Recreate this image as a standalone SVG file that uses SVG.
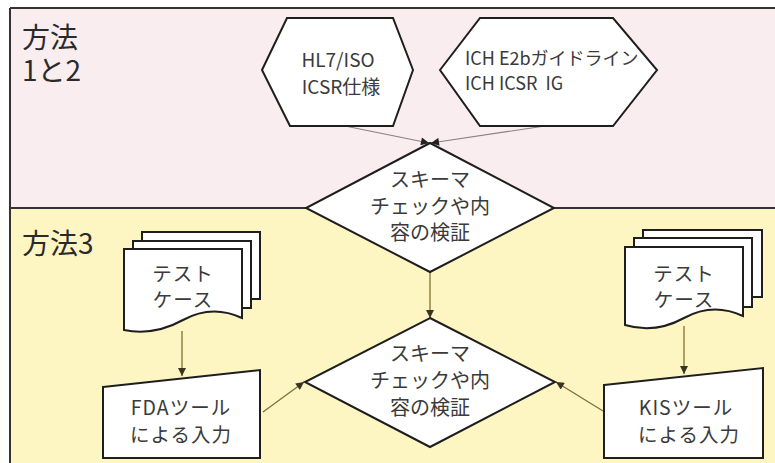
<svg xmlns="http://www.w3.org/2000/svg" width="775" height="463" viewBox="0 0 775 463">
<defs>
<style>
text{font-family:"Noto Sans CJK JP","Noto Sans",sans-serif;fill:#3a3a3a}
.lbl{font-size:28px;fill:#2a2a2a}
.hx{font-size:19px}
.dm{font-size:20px;text-anchor:middle}
.dc{font-size:19.5px;text-anchor:middle;letter-spacing:1px}
.shape{fill:#fff;stroke:#1e1e1e;stroke-width:2;stroke-linejoin:miter}
.conn-p{fill:none;stroke:#8e7f86;stroke-width:1.2}
.conn-y{fill:none;stroke:#7f7034;stroke-width:1.3}
</style>
<marker id="ahp" viewBox="0 0 10 10" refX="10" refY="5" markerWidth="9" markerHeight="8" markerUnits="userSpaceOnUse" orient="auto">
<path d="M0,0 L10,5 L0,10 z" fill="#222"/>
</marker>
<marker id="ahy" viewBox="0 0 10 10" refX="10" refY="5" markerWidth="9" markerHeight="8" markerUnits="userSpaceOnUse" orient="auto">
<path d="M0,0 L10,5 L0,10 z" fill="#3a3320"/>
</marker>
</defs>

<g id="background">
<rect x="0" y="0" width="775" height="463" fill="#ffffff"/>
<rect x="10" y="8" width="765" height="200" fill="#faedef"/>
<rect x="10" y="208" width="765" height="255" fill="#fdf6c3"/>
<line x1="10" y1="8" x2="775" y2="8" stroke="#333" stroke-width="2"/>
<line x1="10" y1="8" x2="10" y2="463" stroke="#333" stroke-width="2"/>
<line x1="10" y1="208" x2="775" y2="208" stroke="#333" stroke-width="2"/>
<text class="lbl" x="22" y="48">方法</text>
<text class="lbl" x="22" y="81">1と2</text>
<text class="lbl" x="22" y="254">方法3</text>
</g>

<g id="connectors">
<line class="conn-p" x1="345" y1="126" x2="429" y2="143" marker-end="url(#ahp)"/>
<line class="conn-p" x1="545" y1="126" x2="431" y2="143" marker-end="url(#ahp)"/>
<line class="conn-y" x1="430" y1="272" x2="430" y2="318" marker-end="url(#ahy)"/>
<line class="conn-y" x1="182" y1="331" x2="182" y2="376" marker-end="url(#ahy)"/>
<line class="conn-y" x1="684" y1="326" x2="684" y2="374" marker-end="url(#ahy)"/>
<line class="conn-y" x1="263" y1="412" x2="304" y2="382" marker-end="url(#ahy)"/>
<line class="conn-y" x1="603" y1="411" x2="556" y2="382" marker-end="url(#ahy)"/>
</g>

<g id="hl7-iso">
<polygon class="shape" points="262,70 287,18 393,18 413,70 393,126 290,126"/>
<text class="hx" x="338" y="67" text-anchor="middle">HL7/ISO</text>
<text class="hx" x="341" y="94" text-anchor="middle">ICSR仕様</text>
</g>

<g id="ich-e2b">
<polygon class="shape" points="440,70 480,18 613,18 657,70 613,126 480,126"/>
<text x="465" y="65" style="font-size:18px">ICH E2bガイドライン</text>
<text x="465" y="90" style="font-size:18px" xml:space="preserve">ICH ICSR  IG</text>
</g>

<g id="schema-check-1">
<polygon class="shape" points="430,143 554,208 430,272 306,208"/>
<text class="dm" x="430" y="187">スキーマ</text>
<text class="dm" x="430" y="214">チェックや内</text>
<text class="dm" x="430" y="240">容の検証</text>
</g>

<g id="schema-check-2">
<polygon class="shape" points="430,318 555,382 430,447 305,382"/>
<text class="dm" x="430" y="361">スキーマ</text>
<text class="dm" x="430" y="388">チェックや内</text>
<text class="dm" x="430" y="415">容の検証</text>
</g>

<g id="test-case-left">
<rect class="shape" x="142" y="232" width="118" height="67"/>
<rect class="shape" x="133" y="241" width="118" height="67"/>
<path class="shape" d="M124,249 H242 V318 Q212,304 183,320 T124,330 Z"/>
<text class="dc" x="183" y="281">テスト</text>
<text class="dc" x="183" y="307">ケース</text>
</g>

<g id="fda-input">
<polygon class="shape" points="103,387 260,370 260,458 103,458"/>
<text class="dc" x="181" y="415">FDAツール</text>
<text class="dc" x="181" y="442">による入力</text>
</g>

<g id="test-case-right">
<rect class="shape" x="643" y="230" width="119" height="67"/>
<rect class="shape" x="634" y="238" width="118" height="69"/>
<path class="shape" d="M625,247 H743 V316 Q713,302 684,318 T625,325 Z"/>
<text class="dc" x="684" y="281">テスト</text>
<text class="dc" x="684" y="307">ケース</text>
</g>

<g id="kis-input">
<polygon class="shape" points="604,385 763,368 763,458 604,458"/>
<text class="dc" x="686" y="415">KISツール</text>
<text class="dc" x="689" y="442">による入力</text>
</g>
</svg>
